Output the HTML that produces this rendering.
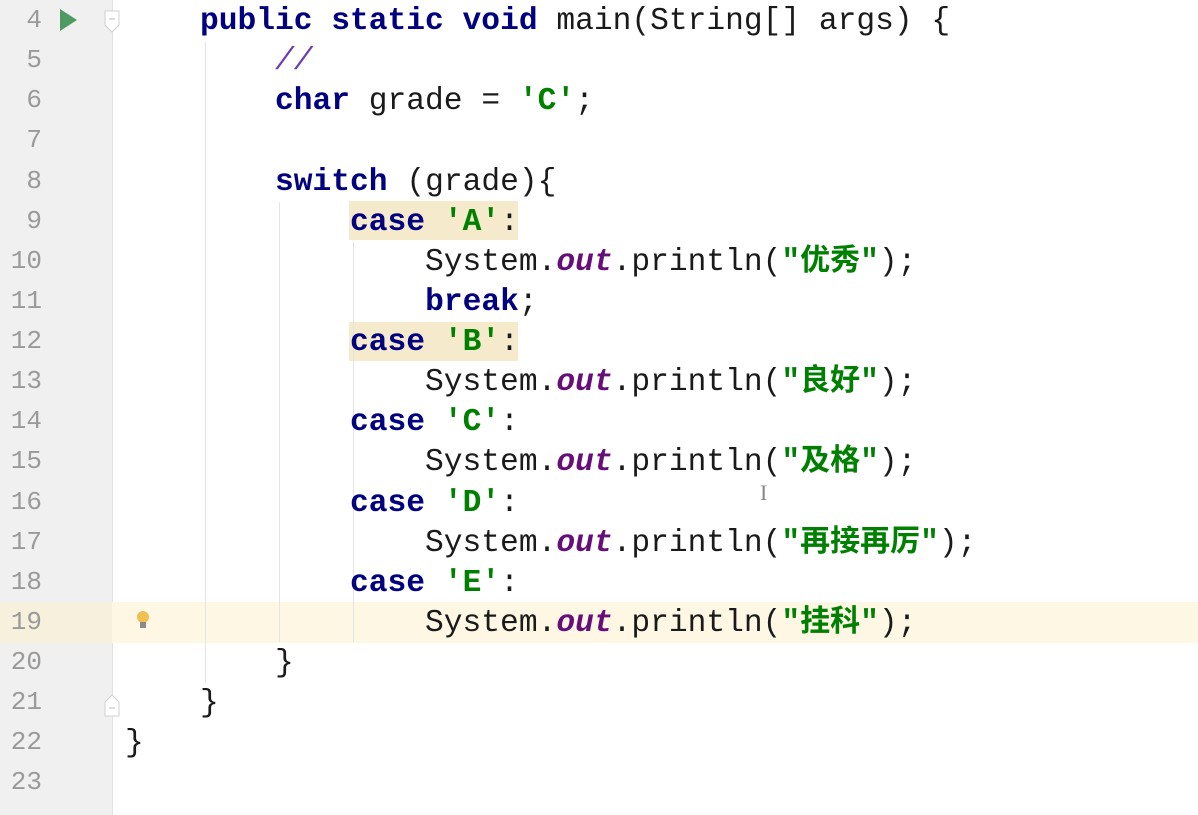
<!DOCTYPE html>
<html><head><meta charset="utf-8"><style>
body{margin:0;width:1198px;height:815px;background:#fff;position:relative;overflow:hidden;font-family:"Liberation Mono","Noto Sans CJK SC",monospace;}
.gut{position:absolute;left:0;top:0;width:112px;height:815px;background:#f0f0f0;border-right:1px solid #e2e2e2;}
.hl{position:absolute;left:0;top:602px;width:1198px;height:41px;background:#fdf7e4;}
.hlg{position:absolute;left:0;top:602px;width:112px;height:41px;background:#f6f0dc;}
.ln{position:absolute;left:0;width:42px;text-align:right;font-size:26px;color:#9a9a9a;line-height:40px;}
.c{position:absolute;left:125px;font-size:31.25px;line-height:40px;height:40px;color:#1a1a1a;white-space:pre;top:2px;}
.k{color:#000080;font-weight:bold;}
.s{color:#008000;font-weight:bold;}
.o{color:#660e7a;font-style:italic;font-weight:bold;}
.cm{color:#6b3fb0;font-style:italic;}
.cj{font-family:"Noto Sans CJK SC",sans-serif;color:#008000;font-weight:bold;font-size:30px;line-height:0;}
.g{position:absolute;width:1px;background:#e4e4e4;}
.mark{position:absolute;left:349px;width:169px;height:39px;background:#f5eacb;}
</style></head><body>
<div class="gut"></div>
<div class="hl"></div><div class="hlg"></div>
<div class="mark" style="top:201px"></div>
<div class="mark" style="top:322px"></div>
<div class="g" style="left:205px;top:42px;height:640px"></div>
<div class="g" style="left:279px;top:202px;height:440px"></div>
<div class="g" style="left:353px;top:242px;height:400px"></div>
<svg style="position:absolute;left:60px;top:9px" width="18" height="22"><polygon points="0,0 17,11 0,22" fill="#4f9a62"/></svg>
<svg style="position:absolute;left:104px;top:10px" width="16" height="24"><path d="M1,1 H15 V15 L8,22 L1,15 Z" fill="#fff" stroke="#d0d0d0"/><line x1="5" y1="9" x2="11" y2="9" stroke="#bbb"/></svg>
<svg style="position:absolute;left:104px;top:693px" width="16" height="24"><path d="M1,23 H15 V9 L8,2 L1,9 Z" fill="#fff" stroke="#d0d0d0"/><line x1="5" y1="15" x2="11" y2="15" stroke="#bbb"/></svg>
<svg style="position:absolute;left:136px;top:610px" width="14" height="20"><circle cx="7" cy="7" r="6" fill="#f0c050"/><rect x="4" y="12" width="6" height="6" fill="#8a8a8a"/></svg>

<div class="ln" style="top:0px">4</div>
<div class="ln" style="top:40px">5</div>
<div class="ln" style="top:80px">6</div>
<div class="ln" style="top:120px">7</div>
<div class="ln" style="top:161px">8</div>
<div class="ln" style="top:201px">9</div>
<div class="ln" style="top:241px">10</div>
<div class="ln" style="top:281px">11</div>
<div class="ln" style="top:321px">12</div>
<div class="ln" style="top:361px">13</div>
<div class="ln" style="top:401px">14</div>
<div class="ln" style="top:441px">15</div>
<div class="ln" style="top:482px">16</div>
<div class="ln" style="top:522px">17</div>
<div class="ln" style="top:562px">18</div>
<div class="ln" style="top:602px">19</div>
<div class="ln" style="top:642px">20</div>
<div class="ln" style="top:682px">21</div>
<div class="ln" style="top:722px">22</div>
<div class="ln" style="top:762px">23</div>

<div class="c" style="top:2px">    <span class="k">public static void</span> main(String[] args) {</div>
<div class="c" style="top:42px">        <span class="cm">//</span></div>
<div class="c" style="top:82px">        <span class="k">char</span> grade = <span class="s">'C'</span>;</div>
<div class="c" style="top:163px">        <span class="k">switch</span> (grade){</div>
<div class="c" style="top:203px">            <span class="k">case</span> <span class="s">'A'</span>:</div>
<div class="c" style="top:243px">                System.<span class="o">out</span>.println(<span class="s">"<span class="cj">优秀</span>"</span>);</div>
<div class="c" style="top:283px">                <span class="k">break</span>;</div>
<div class="c" style="top:323px">            <span class="k">case</span> <span class="s">'B'</span>:</div>
<div class="c" style="top:363px">                System.<span class="o">out</span>.println(<span class="s">"<span class="cj">良好</span>"</span>);</div>
<div class="c" style="top:403px">            <span class="k">case</span> <span class="s">'C'</span>:</div>
<div class="c" style="top:443px">                System.<span class="o">out</span>.println(<span class="s">"<span class="cj">及格</span>"</span>);</div>
<div class="c" style="top:484px">            <span class="k">case</span> <span class="s">'D'</span>:</div>
<div class="c" style="top:524px">                System.<span class="o">out</span>.println(<span class="s">"<span class="cj">再接再厉</span>"</span>);</div>
<div class="c" style="top:564px">            <span class="k">case</span> <span class="s">'E'</span>:</div>
<div class="c" style="top:604px">                System.<span class="o">out</span>.println(<span class="s">"<span class="cj">挂科</span>"</span>);</div>
<div class="c" style="top:644px">        }</div>
<div class="c" style="top:684px">    }</div>
<div class="c" style="top:724px">}</div>
<div style="position:absolute;left:760px;top:480px;font-size:22px;color:#888;font-family:'Liberation Serif',serif">I</div>
</body></html>
